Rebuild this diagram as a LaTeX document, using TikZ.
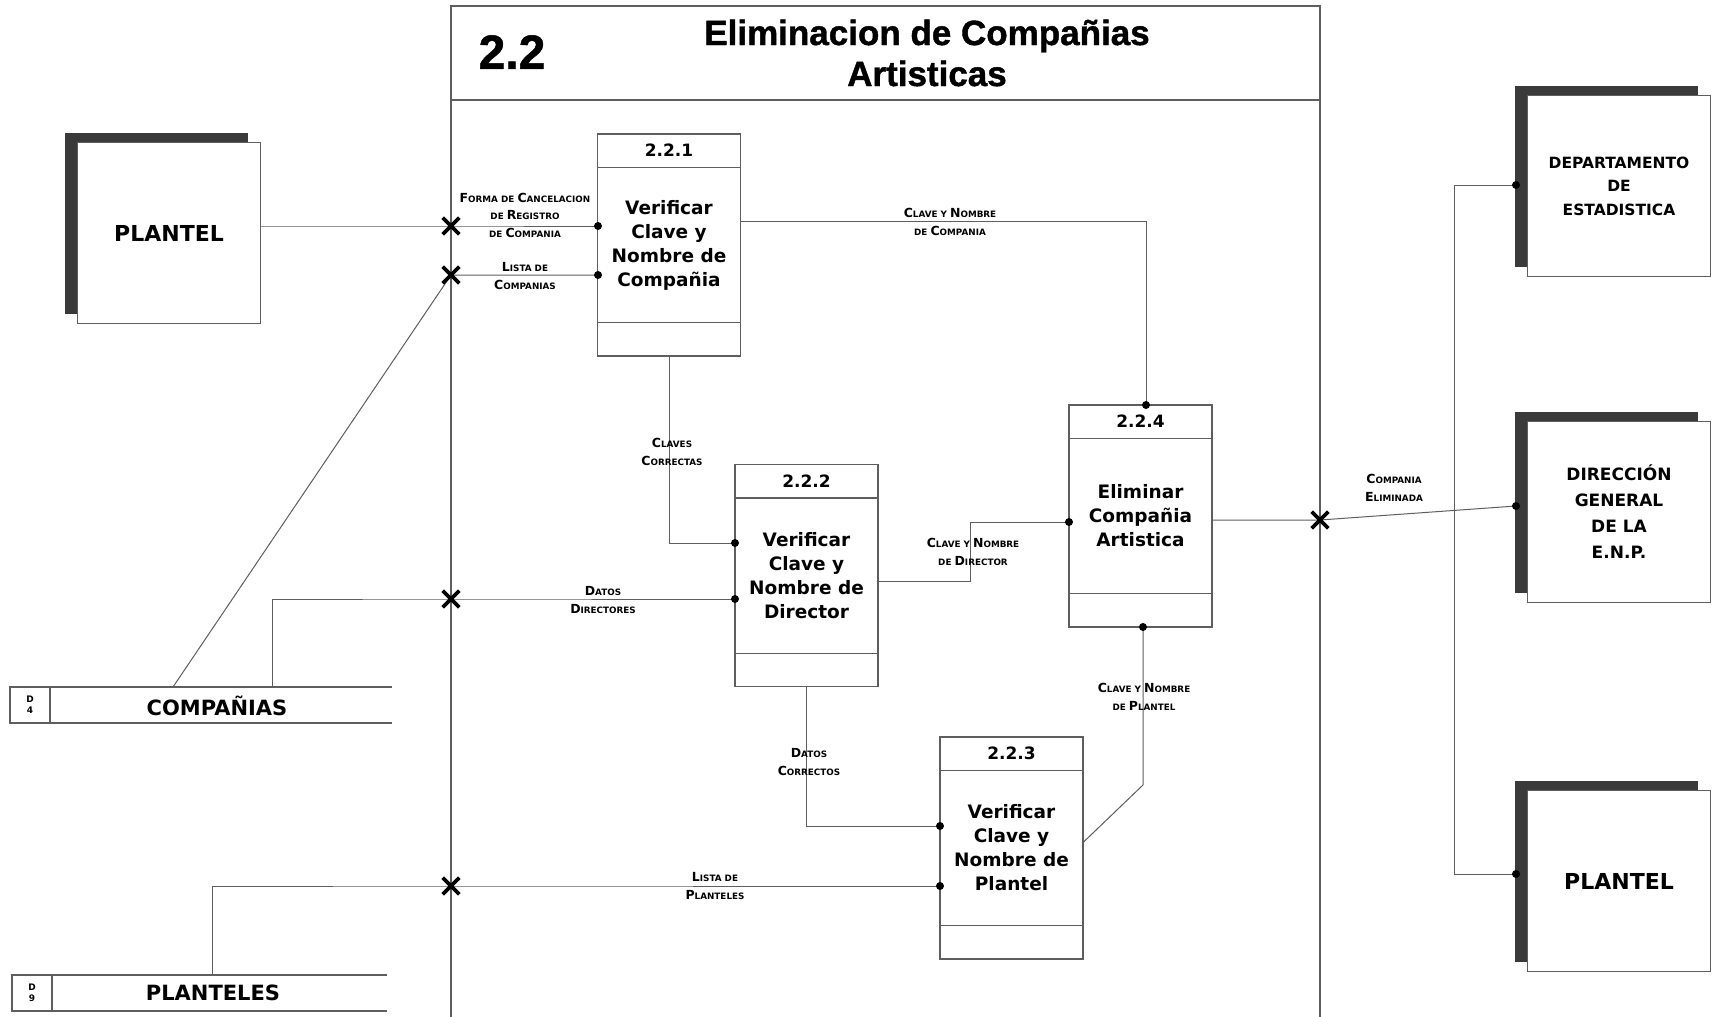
\documentclass[tikz,border=0pt]{standalone}
\usepackage{fontspec}
\setmainfont{DejaVu Sans}
\newfontfamily\titlefont{Liberation Sans Bold}[FakeBold=1.2]
\usetikzlibrary{shapes.misc}
\definecolor{linec}{HTML}{5E5E5E}
\definecolor{shadowc}{HTML}{3A3A3A}
\newcommand\bc[1]{{\fontsize{12.5}{12.5}\selectfont #1}}
\tikzset{
  conn/.style={draw=linec, line width=1pt},
  boxline/.style={draw=linec, line width=1.1pt},
  procbox/.style={draw=linec, line width=1.1pt, minimum width=143pt, minimum height=222pt, inner sep=0pt},
  dot/.style={circle, fill=black, inner sep=0pt, minimum size=8pt},
  xmark/.style={cross out, draw=black, line width=3.6pt, minimum size=13pt, inner sep=0pt},
  lbl/.style={font=\bfseries\fontsize{8.8}{17.5}\selectfont, align=center, inner sep=0pt},
  ptext/.style={font=\bfseries\fontsize{18.5}{24}\selectfont, align=center},
  pnum/.style={font=\bfseries\fontsize{17}{17}\selectfont},
  enttext/.style={font=\bfseries\fontsize{17}{23}\selectfont, align=center},
  entbox/.style={draw=linec, fill=white, line width=1pt, minimum width=183pt, minimum height=181pt, inner sep=0pt, anchor=north west},
  storetext/.style={font=\bfseries\fontsize{21}{21}\selectfont},
  storeid/.style={font=\bfseries\fontsize{9}{11}\selectfont, align=center},
}
\newcommand\proc[5]{%
  \node[procbox] (#1) at (#2,#3) {};
  \draw[boxline] ([yshift=-34pt]#1.north west) -- ([yshift=-34pt]#1.north east);
  \draw[boxline] ([yshift=34pt]#1.south west) -- ([yshift=34pt]#1.south east);
  \node[pnum] (#1n) at ([yshift=-17pt]#1.north) {#4};
  \node[ptext] (#1t) at (#1.center) {#5};
}
\newcommand\entity[6]{%
  \fill[shadowc] (#2-12,#3-9) rectangle ++(183,181);
  \node[entbox] (#1) at (#2,#3) {};
  \node[enttext,font=\bfseries\fontsize{#5}{#6}\selectfont] (#1t) at (#1.center) {#4};
}
\begin{document}
\begin{tikzpicture}[x=1pt,y=-1pt]
\useasboundingbox (0,0) rectangle (1714,1017);
\fill[white] (0,0) rectangle (1714,1017);

% frame
\draw[boxline] (451,1017) -- (451,6) -- (1320,6) -- (1320,1017);
\draw[boxline] (451,100) -- (1320,100);
\node[font=\titlefont\fontsize{48}{48}\selectfont] (tnum) at (512,52) {2.2};
\node[font=\titlefont\fontsize{35}{41}\selectfont, align=center] (title) at (927,53) {Eliminacion de Compañias\\Artisticas};

% external entities
\entity{plA}{77}{142}{PLANTEL}{22}{23}
\entity{dept}{1527}{95}{DEPARTAMENTO\\DE\\ESTADISTICA}{15.5}{23.5}
\entity{dir}{1527}{421}{DIRECCIÓN\\GENERAL\\DE LA\\E.N.P.}{17}{26}
\entity{plB}{1527}{790}{PLANTEL}{22}{23}

% data stores
\draw[boxline] (10,687) -- (392,687);
\draw[boxline] (10,723) -- (392,723);
\draw[boxline] (10,687) rectangle (50,723);
\node[storeid] (s4id) at (30,705) {D\\4};
\node[storetext] (s4) at (217,706) {COMPAÑIAS};
\draw[boxline] (12,975) -- (387,975);
\draw[boxline] (12,1011) -- (387,1011);
\draw[boxline] (12,975) rectangle (52,1011);
\node[storeid] (s9id) at (32,993) {D\\9};
\node[storetext] (s9) at (213,993) {PLANTELES};
\coordinate (s4a) at (173,687);
\coordinate (s4b) at (272,687);
\coordinate (s9a) at (212,975);

% processes
\proc{p1}{669}{245}{2.2.1}{Verificar\\Clave y\\Nombre de\\Compañia}
\proc{p2}{806.5}{575.5}{2.2.2}{Verificar\\Clave y\\Nombre de\\Director}
\proc{p3}{1011.5}{848}{2.2.3}{Verificar\\Clave y\\Nombre de\\Plantel}
\proc{p4}{1140.5}{516}{2.2.4}{Eliminar\\Compañia\\Artistica}

% connection points
\coordinate (d1) at (598,226);
\coordinate (d2) at (598,275);
\coordinate (d4) at (735,543);
\coordinate (d5) at (735,599);
\coordinate (d6) at (1069,522);
\coordinate (d7) at (940,826);
\coordinate (d8) at (940,886);
\coordinate (d10) at (1146,405);
\coordinate (d11) at (1143,627);
\coordinate (dDept) at (1516,185);
\coordinate (dDir) at (1516,506);
\coordinate (dPl) at (1516,874);
\coordinate (x1) at (451,226);
\coordinate (x2) at (451,275);
\coordinate (x3) at (451,599);
\coordinate (x4) at (451,886);
\coordinate (x5) at (1320,520);
\coordinate (c3) at (1146,221);
\coordinate (c6) at (970,581);
\coordinate (c9) at (1143,785);
\coordinate (b1) at (1454,185);
\coordinate (b3) at (1454,874);

% connectors
\draw[conn] (plA.east |- x1) -- (x1) -- (d1);
\draw[conn] (d2) -- (x2) -- (s4a);
\draw[conn] (c3 -| p1.east) -- (c3) -- (d10);
\draw[conn] (p1.south) |- (d4);
\draw[conn] (s4b) |- (x3) -- (d5);
\draw[conn] (c6 -| p2.east) -- (c6) |- (d6);
\draw[conn] (p2.south) |- (d7);
\draw[conn] (s9a) |- (x4) -- (d8);
\draw[conn] ([yshift=6pt]p3.east) -- (c9) -- (d11);
\draw[conn] (p4.east |- x5) -- (x5) -- (dDir);
\draw[conn] (dDept) -- (b1) -- (b3) -- (dPl);

% dots and crossings
\foreach \p in {d1,d2,d4,d5,d6,d7,d8,d10,d11,dDept,dDir,dPl}
  \node[dot] at (\p) {};
\foreach \p in {x1,x2,x3,x4,x5}
  \node[xmark] at (\p) {};

% labels
\node[lbl] (l1) at (525,215) {\bc{F}ORMA DE \bc{C}ANCELACION\\DE \bc{R}EGISTRO\\DE \bc{C}OMPANIA};
\node[lbl] (l2) at (525,276) {\bc{L}ISTA DE\\\bc{C}OMPANIAS};
\node[lbl] (l3) at (950,222) {\bc{C}LAVE Y \bc{N}OMBRE\\DE \bc{C}OMPANIA};
\node[lbl] (l4) at (672,452) {\bc{C}LAVES\\\bc{C}ORRECTAS};
\node[lbl] (l5) at (603,600) {\bc{D}ATOS\\\bc{D}IRECTORES};
\node[lbl] (l6) at (973,552) {\bc{C}LAVE Y \bc{N}OMBRE\\DE \bc{D}IRECTOR};
\node[lbl] (l7) at (809,762) {\bc{D}ATOS\\\bc{C}ORRECTOS};
\node[lbl] (l8) at (715,886) {\bc{L}ISTA DE\\\bc{P}LANTELES};
\node[lbl] (l9) at (1144,697) {\bc{C}LAVE Y \bc{N}OMBRE\\DE \bc{P}LANTEL};
\node[lbl] (l10) at (1394,488) {\bc{C}OMPANIA\\\bc{E}LIMINADA};
\end{tikzpicture}
\end{document}
